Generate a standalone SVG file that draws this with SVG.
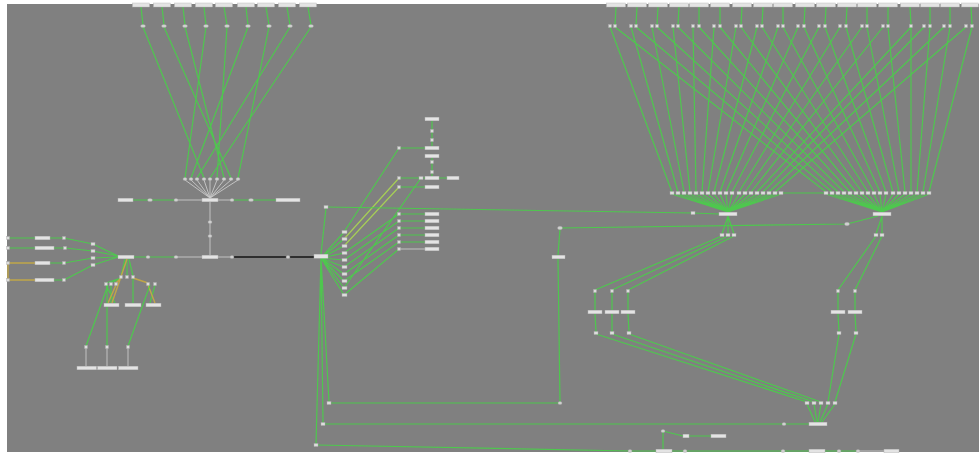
<svg xmlns="http://www.w3.org/2000/svg" width="979" height="454" viewBox="0 0 979 454">
<defs>
<style>
.g{stroke:#45d445;stroke-width:1.2;fill:none;stroke-opacity:.85}
.gl{stroke:#a6cf56;stroke-width:1.2;fill:none}
.gr{stroke:#c9c9c9;stroke-width:.9;fill:none}
.bk{stroke:#2e2e2e;stroke-width:2.2;fill:none}
.ol{stroke:#c0a648;stroke-width:1.4;fill:none}
.sq{fill:#dcdcdc;stroke:#a8a8a8;stroke-width:.4}
.lb{fill:#e4e4e4;stroke:#b4b4b4;stroke-width:.4}
.el{fill:#d0d0d0;stroke:#a8a8a8;stroke-width:.3}
</style>
</defs>
<rect x="0" y="0" width="979" height="454" fill="#ffffff"/>
<rect x="7" y="4" width="972" height="448" fill="#808080"/>

<g id="connectors">
<path class="g" d="M141,7L143,25M162,7L164,25M183,7L185,25M204,7L206,25M224,7L227,25M246,7L248,25M266,7L269,25M287,7L290,25M308,7L311,25"/>
<path class="g" d="M143,27L204,178M164,27L231,178M185,27L224,178M206,27L185,178M227,27L217,178M248,27L191,178M269,27L238,178M290,27L197,178M311,27L210,178"/>
<path class="gr" d="M185,180L210,198M191,180L210,198M197,180L210,198M204,180L210,198M210,180L210,198M217,180L210,198M224,180L210,198M231,180L210,198M238,180L210,198"/>
<path class="g" d="M133,200L150,200M150,200L176,200M232,200L251,200M251,200L276,200"/>
<path class="gr" d="M176,200L202,200M218,200L232,200M210,202L210,255"/>
<path class="g" d="M134,257L148,257M148,257L176,257"/>
<path class="gr" d="M176,257L202,257M218,257L232,257"/>
<path class="bk" d="M232,257L288,257M288,257L314,257"/>
<path class="g" d="M8,238L35,238M50,238L64,238M8,248L35,248M54,248L65,248M50,263L64,263M54,280L64,280"/>
<path class="ol" d="M8,263L35,263M8,280L35,280M8,263L8,280"/>
<path class="g" d="M64,238L93,244M65,248L93,251M64,263L93,258M64,280L93,265M93,244L118,256M93,251L118,256M93,258L118,257M93,265L118,257"/>
<path class="g" d="M125,259L121,276M127,259L127,276M129,259L133,276M121,278L106,283M121,278L111,283M133,278L133,303M106,285L115,303M111,285L111,303M155,285L150,303"/>
<path class="ol" d="M121,278L116,283M127,259L112,303M133,278L148,283M148,285L155,303M116,285L108,303"/>
<path class="g" d="M108,285L86,346M107,285L107,346M150,285L128,346"/>
<path class="gr" d="M86,348L86,366M107,348L107,366M128,348L128,366"/>
<path class="g" d="M321,258L344,232M321,258L344,239M321,258L344,246M321,258L344,253M321,258L344,260M321,258L344,267M321,258L344,274M321,258L344,281M321,258L344,288M321,258L344,295"/>
<path class="g" d="M344,232L399,148M344,253L399,214M344,260L399,221M344,267L399,228M344,274L399,235M344,281L399,242M344,288L421,178M344,295L399,249"/>
<path class="gl" d="M344,239L399,178M344,246L399,187"/>
<path class="g" d="M399,148L425,148M399,178L421,178M421,178L425,178M439,178L447,178M399,187L425,187M399,214L425,214M399,221L425,221M399,228L425,228M399,235L425,235M399,242L425,242M432,121L432,146M432,158L432,176"/>
<path class="gr" d="M399,249L425,249"/>
<path class="g" d="M321,254L326,208M326,207L693,213M693,213L719,214"/>
<path class="g" d="M321,258L329,402M321,258L323,423M321,258L316,444"/>
<path class="g" d="M329,403L560,403M560,403L558,259M558,255L560,229M560,228L847,224M847,224L878,216"/>
<path class="g" d="M323,424L784,424M784,424L809,424"/>
<path class="g" d="M316,445L630,451M630,451L656,451M672,451L685,451M685,451L783,451M783,451L809,451M825,451L839,451M839,451L858,451M663,431L663,449M663,431L683,436M689,436L711,436"/>
<path class="gr" d="M858,451L884,451"/>
<path class="g" d="M728,216L722,234M728,216L728,234M728,216L734,234M882,216L876,234M882,216L882,234"/>
<path class="g" d="M722,236L595,290M728,236L612,290M734,236L628,290M595,292L595,310M612,292L612,310M628,292L628,310M595,314L596,332M612,314L612,332M628,314L629,332"/>
<path class="g" d="M596,334L807,402M612,334L814,402M629,334L821,402"/>
<path class="g" d="M876,236L838,290M882,236L855,290M838,292L838,310M855,292L855,310M838,314L839,332M855,314L856,332M839,334L828,402M856,334L835,402"/>
<path class="g" d="M807,404L815,422M814,404L817,422M821,404L818,422M828,404L820,422M835,404L822,422"/>
<path class="g" d="M616,7L615,25M637,7L636,25M658,7L657,25M679,7L678,25M699,7L699,25M720,7L720,25M742,7L741,25M763,7L762,25M783,7L783,25M805,7L804,25M826,7L825,25M847,7L846,25M867,7L867,25M888,7L888,25M910,7L911,25M930,7L930,25M950,7L950,25M971,7L972,25"/>
<path class="g" d="M610,27L672,192M615,27L826,192M631,27L678,192M636,27L832,192M652,27L684,192M657,27L838,192M673,27L690,192M678,27L844,192M693,27L696,192M699,27L850,192M714,27L702,192M720,27L856,192M736,27L708,192M741,27L862,192M757,27L714,192M762,27L868,192M778,27L720,192M783,27L874,192M798,27L726,192M804,27L880,192M819,27L732,192M825,27L886,192M840,27L739,192M846,27L893,192M862,27L745,192M867,27L899,192M883,27L751,192M888,27L905,192M911,27L757,192M911,27L911,192M924,27L763,192M930,27L917,192M944,27L769,192M950,27L923,192M966,27L775,192M972,27L929,192"/>
<path class="g" d="M672,194L728,212M678,194L728,212M684,194L728,212M690,194L728,212M696,194L728,212M702,194L728,212M708,194L728,212M714,194L728,212M720,194L728,212M726,194L728,212M732,194L728,212M739,194L728,212M745,194L728,212M751,194L728,212M757,194L728,212M763,194L728,212M769,194L728,212M775,194L728,212M781,194L728,212"/>
<path class="g" d="M826,194L882,212M832,194L882,212M838,194L882,212M844,194L882,212M850,194L882,212M856,194L882,212M862,194L882,212M868,194L882,212M874,194L882,212M880,194L882,212M886,194L882,212M893,194L882,212M899,194L882,212M905,194L882,212M911,194L882,212M917,194L882,212M923,194L882,212M929,194L882,212"/>
<path class="g" d="M781,193L826,193"/>
</g>

<g id="nodes">
<g id="lt1"><rect class="lb" x="132.5" y="3" width="17" height="4"/></g>
<g id="lt2"><rect class="lb" x="153.5" y="3" width="17" height="4"/></g>
<g id="lt3"><rect class="lb" x="174.5" y="3" width="17" height="4"/></g>
<g id="lt4"><rect class="lb" x="195.5" y="3" width="17" height="4"/></g>
<g id="lt5"><rect class="lb" x="215.5" y="3" width="17" height="4"/></g>
<g id="lt6"><rect class="lb" x="237.5" y="3" width="17" height="4"/></g>
<g id="lt7"><rect class="lb" x="257.5" y="3" width="17" height="4"/></g>
<g id="lt8"><rect class="lb" x="278.5" y="3" width="17" height="4"/></g>
<g id="lt9"><rect class="lb" x="299.5" y="3" width="17" height="4"/></g>
<g id="le1"><ellipse class="el" cx="143" cy="26" rx="2.5" ry="1.6"/></g>
<g id="le2"><ellipse class="el" cx="164" cy="26" rx="2.5" ry="1.6"/></g>
<g id="le3"><ellipse class="el" cx="185" cy="26" rx="2.5" ry="1.6"/></g>
<g id="le4"><ellipse class="el" cx="206" cy="26" rx="2.5" ry="1.6"/></g>
<g id="le5"><ellipse class="el" cx="227" cy="26" rx="2.5" ry="1.6"/></g>
<g id="le6"><ellipse class="el" cx="248" cy="26" rx="2.5" ry="1.6"/></g>
<g id="le7"><ellipse class="el" cx="269" cy="26" rx="2.5" ry="1.6"/></g>
<g id="le8"><ellipse class="el" cx="290" cy="26" rx="2.5" ry="1.6"/></g>
<g id="le9"><ellipse class="el" cx="311" cy="26" rx="2.5" ry="1.6"/></g>
<g id="lr1"><ellipse class="el" cx="185" cy="179" rx="2" ry="1.5"/></g>
<g id="lr2"><ellipse class="el" cx="191" cy="179" rx="2" ry="1.5"/></g>
<g id="lr3"><ellipse class="el" cx="197" cy="179" rx="2" ry="1.5"/></g>
<g id="lr4"><ellipse class="el" cx="204" cy="179" rx="2" ry="1.5"/></g>
<g id="lr5"><ellipse class="el" cx="210" cy="179" rx="2" ry="1.5"/></g>
<g id="lr6"><ellipse class="el" cx="217" cy="179" rx="2" ry="1.5"/></g>
<g id="lr7"><ellipse class="el" cx="224" cy="179" rx="2" ry="1.5"/></g>
<g id="lr8"><ellipse class="el" cx="231" cy="179" rx="2" ry="1.5"/></g>
<g id="lr9"><ellipse class="el" cx="238" cy="179" rx="2" ry="1.5"/></g>
<g id="a1"><rect class="lb" x="118" y="198.2" width="15" height="3.6"/></g>
<g id="a2"><ellipse class="el" cx="150" cy="200" rx="2.5" ry="1.6"/></g>
<g id="a3"><ellipse class="el" cx="176" cy="200" rx="2" ry="1.6"/></g>
<g id="hub1"><rect class="lb" x="202" y="198.2" width="16" height="3.6"/></g>
<g id="a4"><ellipse class="el" cx="232" cy="200" rx="2" ry="1.6"/></g>
<g id="a5"><ellipse class="el" cx="251" cy="200" rx="2.5" ry="1.6"/></g>
<g id="a6"><rect class="lb" x="276" y="198.2" width="24" height="3.6"/></g>
<g id="v1"><ellipse class="el" cx="210" cy="222" rx="2" ry="1.6"/></g>
<g id="v2"><ellipse class="el" cx="210" cy="236" rx="2" ry="1.6"/></g>
<g id="lhub"><rect class="lb" x="118" y="255.2" width="16" height="3.6"/></g>
<g id="b1"><ellipse class="el" cx="148" cy="257" rx="2" ry="1.6"/></g>
<g id="b2"><ellipse class="el" cx="176" cy="257" rx="2" ry="1.6"/></g>
<g id="hub2"><rect class="lb" x="202" y="255.2" width="16" height="3.6"/></g>
<g id="b3"><ellipse class="el" cx="232" cy="257" rx="2" ry="1.6"/></g>
<g id="b4"><ellipse class="el" cx="288" cy="257" rx="2" ry="1.6"/></g>
<g id="mhub"><rect class="lb" x="314" y="254.2" width="14" height="4"/></g>
<g id="c1"><rect class="sq" x="6.5" y="236.5" width="3" height="3"/></g>
<g id="c2"><rect class="sq" x="6.5" y="246.5" width="3" height="3"/></g>
<g id="c3"><rect class="sq" x="6.5" y="261.5" width="3" height="3"/></g>
<g id="c4"><rect class="sq" x="6.5" y="278.5" width="3" height="3"/></g>
<g id="c5"><rect class="lb" x="35" y="236.2" width="15" height="3.6"/></g>
<g id="c6"><rect class="lb" x="35" y="246.2" width="19" height="3.6"/></g>
<g id="c7"><rect class="lb" x="35" y="261.2" width="15" height="3.6"/></g>
<g id="c8"><rect class="lb" x="35" y="278.2" width="19" height="3.6"/></g>
<g id="c9"><rect class="sq" x="62.5" y="236.5" width="3" height="3"/></g>
<g id="c10"><rect class="sq" x="63.5" y="246.5" width="3" height="3"/></g>
<g id="c11"><rect class="sq" x="62.5" y="261.5" width="3" height="3"/></g>
<g id="c12"><rect class="sq" x="62.5" y="278.5" width="3" height="3"/></g>
<g id="c13"><rect class="sq" x="91" y="242.5" width="4" height="3"/></g>
<g id="c14"><rect class="sq" x="91" y="249.5" width="4" height="3"/></g>
<g id="c15"><rect class="sq" x="91" y="256.5" width="4" height="3"/></g>
<g id="c16"><rect class="sq" x="91" y="263.5" width="4" height="3"/></g>
<g id="d1"><rect class="sq" x="119.5" y="275.5" width="3" height="3"/></g>
<g id="d2"><rect class="sq" x="125.5" y="275.5" width="3" height="3"/></g>
<g id="d3"><rect class="sq" x="131.5" y="275.5" width="3" height="3"/></g>
<g id="d4"><rect class="sq" x="104.5" y="282.5" width="3" height="3"/></g>
<g id="d5"><rect class="sq" x="109.5" y="282.5" width="3" height="3"/></g>
<g id="d6"><rect class="sq" x="114.5" y="282.5" width="3" height="3"/></g>
<g id="d7"><rect class="sq" x="146.5" y="282.5" width="3" height="3"/></g>
<g id="d8"><rect class="sq" x="153.5" y="282.5" width="3" height="3"/></g>
<g id="d9"><rect class="lb" x="104" y="303.2" width="15" height="3.6"/></g>
<g id="d10"><rect class="lb" x="125" y="303.2" width="16" height="3.6"/></g>
<g id="d11"><rect class="lb" x="146" y="303.2" width="15" height="3.6"/></g>
<g id="d12"><rect class="sq" x="84.5" y="345.5" width="3" height="3"/></g>
<g id="d13"><rect class="sq" x="105.5" y="345.5" width="3" height="3"/></g>
<g id="d14"><rect class="sq" x="126.5" y="345.5" width="3" height="3"/></g>
<g id="d15"><rect class="lb" x="77" y="366.2" width="19.5" height="3.6"/></g>
<g id="d16"><rect class="lb" x="97.5" y="366.2" width="19.5" height="3.6"/></g>
<g id="d17"><rect class="lb" x="118.5" y="366.2" width="19.5" height="3.6"/></g>
<g id="m1"><rect class="sq" x="342" y="230.5" width="5" height="3"/></g>
<g id="m2"><rect class="sq" x="342" y="237.5" width="5" height="3"/></g>
<g id="m3"><rect class="sq" x="342" y="244.5" width="5" height="3"/></g>
<g id="m4"><rect class="sq" x="342" y="251.5" width="5" height="3"/></g>
<g id="m5"><rect class="sq" x="342" y="258.5" width="5" height="3"/></g>
<g id="m6"><rect class="sq" x="342" y="265.5" width="5" height="3"/></g>
<g id="m7"><rect class="sq" x="342" y="272.5" width="5" height="3"/></g>
<g id="m8"><rect class="sq" x="342" y="279.5" width="5" height="3"/></g>
<g id="m9"><rect class="sq" x="342" y="286.5" width="5" height="3"/></g>
<g id="m10"><rect class="sq" x="342" y="293.5" width="5" height="3"/></g>
<g id="n1"><rect class="sq" x="397.5" y="146.5" width="3" height="3"/></g>
<g id="n2"><rect class="sq" x="397.5" y="176.5" width="3" height="3"/></g>
<g id="n3"><rect class="sq" x="397.5" y="185.5" width="3" height="3"/></g>
<g id="n4"><rect class="sq" x="397.5" y="212.5" width="3" height="3"/></g>
<g id="n5"><rect class="sq" x="397.5" y="219.5" width="3" height="3"/></g>
<g id="n6"><rect class="sq" x="397.5" y="226.5" width="3" height="3"/></g>
<g id="n7"><rect class="sq" x="397.5" y="233.5" width="3" height="3"/></g>
<g id="n8"><rect class="sq" x="397.5" y="240.5" width="3" height="3"/></g>
<g id="n9"><rect class="sq" x="397.5" y="247.5" width="3" height="3"/></g>
<g id="n10"><rect class="sq" x="419" y="176.5" width="4" height="3"/></g>
<g id="p1"><rect class="lb" x="425" y="117.2" width="14" height="3.6"/></g>
<g id="p2"><rect class="sq" x="430.5" y="129.5" width="3" height="3"/></g>
<g id="p3"><rect class="sq" x="430.5" y="138.5" width="3" height="3"/></g>
<g id="p4"><rect class="lb" x="425" y="146.2" width="14" height="3.6"/></g>
<g id="p5"><rect class="lb" x="425" y="154.2" width="14" height="3.6"/></g>
<g id="p6"><rect class="sq" x="430.5" y="160.5" width="3" height="3"/></g>
<g id="p7"><rect class="sq" x="430.5" y="170.5" width="3" height="3"/></g>
<g id="p8"><rect class="lb" x="425" y="176.2" width="14" height="3.6"/></g>
<g id="p9"><rect class="lb" x="447" y="176.2" width="12" height="3.6"/></g>
<g id="p10"><rect class="lb" x="425" y="185.2" width="14" height="3.6"/></g>
<g id="p11"><rect class="lb" x="425" y="212.2" width="14" height="3.6"/></g>
<g id="p12"><rect class="lb" x="425" y="219.2" width="14" height="3.6"/></g>
<g id="p13"><rect class="lb" x="425" y="226.2" width="14" height="3.6"/></g>
<g id="p14"><rect class="lb" x="425" y="233.2" width="14" height="3.6"/></g>
<g id="p15"><rect class="lb" x="425" y="240.2" width="14" height="3.6"/></g>
<g id="p16"><rect class="lb" x="425" y="247.2" width="14" height="3.6"/></g>
<g id="x1"><rect class="sq" x="324" y="205.5" width="4" height="3"/></g>
<g id="x2"><rect class="sq" x="691" y="211.5" width="4" height="3"/></g>
<g id="q1"><rect class="sq" x="327" y="401.5" width="4" height="3"/></g>
<g id="q2"><rect class="sq" x="321" y="422.5" width="4" height="3"/></g>
<g id="q3"><rect class="sq" x="314" y="443.5" width="4" height="3"/></g>
<g id="q4"><ellipse class="el" cx="560" cy="403" rx="2" ry="1.6"/></g>
<g id="q5"><rect class="lb" x="552" y="255.2" width="13" height="3.6"/></g>
<g id="q6"><ellipse class="el" cx="560" cy="228" rx="2.5" ry="1.8"/></g>
<g id="q7"><ellipse class="el" cx="847" cy="224" rx="2.5" ry="1.8"/></g>
<g id="q8"><ellipse class="el" cx="784" cy="424" rx="2" ry="1.6"/></g>
<g id="q9"><rect class="lb" x="809" y="422.2" width="18" height="3.6"/></g>
<g id="q10"><ellipse class="el" cx="630" cy="451" rx="2" ry="1.6"/></g>
<g id="q11"><rect class="lb" x="656" y="449.2" width="16" height="3.6"/></g>
<g id="q12"><ellipse class="el" cx="685" cy="451" rx="2" ry="1.6"/></g>
<g id="q13"><ellipse class="el" cx="783" cy="451" rx="2" ry="1.6"/></g>
<g id="q14"><rect class="lb" x="809" y="449.2" width="16" height="3.6"/></g>
<g id="q15"><ellipse class="el" cx="839" cy="451" rx="2" ry="1.6"/></g>
<g id="q16"><ellipse class="el" cx="858" cy="451" rx="2" ry="1.6"/></g>
<g id="q17"><rect class="lb" x="884" y="449.2" width="15" height="3.6"/></g>
<g id="q18"><ellipse class="el" cx="663" cy="431" rx="2" ry="1.6"/></g>
<g id="q19"><rect class="lb" x="683" y="434.2" width="6" height="3.6"/></g>
<g id="q20"><rect class="lb" x="711" y="434.2" width="15" height="3.6"/></g>
<g id="hubL"><rect class="lb" x="719" y="212.2" width="18" height="3.6"/></g>
<g id="hubR"><rect class="lb" x="873" y="212.2" width="18" height="3.6"/></g>
<g id="r1"><rect class="sq" x="720" y="233.5" width="4" height="3"/></g>
<g id="r2"><rect class="sq" x="726" y="233.5" width="4" height="3"/></g>
<g id="r3"><rect class="sq" x="732" y="233.5" width="4" height="3"/></g>
<g id="r4"><rect class="sq" x="874" y="233.5" width="4" height="3"/></g>
<g id="r5"><rect class="sq" x="880" y="233.5" width="4" height="3"/></g>
<g id="s1"><rect class="sq" x="593.5" y="289.5" width="3" height="3"/></g>
<g id="s2"><rect class="sq" x="610.5" y="289.5" width="3" height="3"/></g>
<g id="s3"><rect class="sq" x="626.5" y="289.5" width="3" height="3"/></g>
<g id="s4"><rect class="lb" x="588" y="310.2" width="14" height="3.6"/></g>
<g id="s5"><rect class="lb" x="605" y="310.2" width="14" height="3.6"/></g>
<g id="s6"><rect class="lb" x="621" y="310.2" width="14" height="3.6"/></g>
<g id="s7"><rect class="sq" x="594" y="331.5" width="4" height="3"/></g>
<g id="s8"><rect class="sq" x="610" y="331.5" width="4" height="3"/></g>
<g id="s9"><rect class="sq" x="627" y="331.5" width="4" height="3"/></g>
<g id="t1"><rect class="sq" x="836.5" y="289.5" width="3" height="3"/></g>
<g id="t2"><rect class="sq" x="853.5" y="289.5" width="3" height="3"/></g>
<g id="t3"><rect class="lb" x="831" y="310.2" width="14" height="3.6"/></g>
<g id="t4"><rect class="lb" x="848" y="310.2" width="14" height="3.6"/></g>
<g id="t5"><rect class="sq" x="837" y="331.5" width="4" height="3"/></g>
<g id="t6"><rect class="sq" x="854" y="331.5" width="4" height="3"/></g>
<g id="u1"><rect class="sq" x="805" y="401.5" width="4" height="3"/></g>
<g id="u2"><rect class="sq" x="812" y="401.5" width="4" height="3"/></g>
<g id="u3"><rect class="sq" x="819" y="401.5" width="4" height="3"/></g>
<g id="u4"><rect class="sq" x="826" y="401.5" width="4" height="3"/></g>
<g id="u5"><rect class="sq" x="833" y="401.5" width="4" height="3"/></g>
<g id="rt1"><rect class="lb" x="606.5" y="3" width="19" height="4"/></g>
<g id="rt2"><rect class="lb" x="627.5" y="3" width="19" height="4"/></g>
<g id="rt3"><rect class="lb" x="648.5" y="3" width="19" height="4"/></g>
<g id="rt4"><rect class="lb" x="669.5" y="3" width="19" height="4"/></g>
<g id="rt5"><rect class="lb" x="689.5" y="3" width="19" height="4"/></g>
<g id="rt6"><rect class="lb" x="710.5" y="3" width="19" height="4"/></g>
<g id="rt7"><rect class="lb" x="732.5" y="3" width="19" height="4"/></g>
<g id="rt8"><rect class="lb" x="753.5" y="3" width="19" height="4"/></g>
<g id="rt9"><rect class="lb" x="773.5" y="3" width="19" height="4"/></g>
<g id="rt10"><rect class="lb" x="795.5" y="3" width="19" height="4"/></g>
<g id="rt11"><rect class="lb" x="816.5" y="3" width="19" height="4"/></g>
<g id="rt12"><rect class="lb" x="837.5" y="3" width="19" height="4"/></g>
<g id="rt13"><rect class="lb" x="857.5" y="3" width="19" height="4"/></g>
<g id="rt14"><rect class="lb" x="878.5" y="3" width="19" height="4"/></g>
<g id="rt15"><rect class="lb" x="900.5" y="3" width="19" height="4"/></g>
<g id="rt16"><rect class="lb" x="920.5" y="3" width="19" height="4"/></g>
<g id="rt17"><rect class="lb" x="940.5" y="3" width="19" height="4"/></g>
<g id="rt18"><rect class="lb" x="961.5" y="3" width="17" height="4"/></g>
<g id="pr1a"><rect class="sq" x="608.5" y="24.5" width="3" height="3"/></g><g id="pr1b"><rect class="sq" x="613.5" y="24.5" width="3" height="3"/></g>
<g id="pr2a"><rect class="sq" x="629.5" y="24.5" width="3" height="3"/></g><g id="pr2b"><rect class="sq" x="634.5" y="24.5" width="3" height="3"/></g>
<g id="pr3a"><rect class="sq" x="650.5" y="24.5" width="3" height="3"/></g><g id="pr3b"><rect class="sq" x="655.5" y="24.5" width="3" height="3"/></g>
<g id="pr4a"><rect class="sq" x="671.5" y="24.5" width="3" height="3"/></g><g id="pr4b"><rect class="sq" x="676.5" y="24.5" width="3" height="3"/></g>
<g id="pr5a"><rect class="sq" x="691.5" y="24.5" width="3" height="3"/></g><g id="pr5b"><rect class="sq" x="697.5" y="24.5" width="3" height="3"/></g>
<g id="pr6a"><rect class="sq" x="712.5" y="24.5" width="3" height="3"/></g><g id="pr6b"><rect class="sq" x="718.5" y="24.5" width="3" height="3"/></g>
<g id="pr7a"><rect class="sq" x="734.5" y="24.5" width="3" height="3"/></g><g id="pr7b"><rect class="sq" x="739.5" y="24.5" width="3" height="3"/></g>
<g id="pr8a"><rect class="sq" x="755.5" y="24.5" width="3" height="3"/></g><g id="pr8b"><rect class="sq" x="760.5" y="24.5" width="3" height="3"/></g>
<g id="pr9a"><rect class="sq" x="776.5" y="24.5" width="3" height="3"/></g><g id="pr9b"><rect class="sq" x="781.5" y="24.5" width="3" height="3"/></g>
<g id="pr10a"><rect class="sq" x="796.5" y="24.5" width="3" height="3"/></g><g id="pr10b"><rect class="sq" x="802.5" y="24.5" width="3" height="3"/></g>
<g id="pr11a"><rect class="sq" x="817.5" y="24.5" width="3" height="3"/></g><g id="pr11b"><rect class="sq" x="823.5" y="24.5" width="3" height="3"/></g>
<g id="pr12a"><rect class="sq" x="838.5" y="24.5" width="3" height="3"/></g><g id="pr12b"><rect class="sq" x="844.5" y="24.5" width="3" height="3"/></g>
<g id="pr13a"><rect class="sq" x="860.5" y="24.5" width="3" height="3"/></g><g id="pr13b"><rect class="sq" x="865.5" y="24.5" width="3" height="3"/></g>
<g id="pr14a"><rect class="sq" x="881.5" y="24.5" width="3" height="3"/></g><g id="pr14b"><rect class="sq" x="886.5" y="24.5" width="3" height="3"/></g>
<g id="pr15"><rect class="sq" x="909.5" y="24.5" width="3" height="3"/></g>
<g id="pr16a"><rect class="sq" x="922.5" y="24.5" width="3" height="3"/></g><g id="pr16b"><rect class="sq" x="928.5" y="24.5" width="3" height="3"/></g>
<g id="pr17a"><rect class="sq" x="942.5" y="24.5" width="3" height="3"/></g><g id="pr17b"><rect class="sq" x="948.5" y="24.5" width="3" height="3"/></g>
<g id="pr18a"><rect class="sq" x="964.5" y="24.5" width="3" height="3"/></g><g id="pr18b"><rect class="sq" x="970.5" y="24.5" width="3" height="3"/></g>
<g id="lw1"><rect class="sq" x="670" y="191.5" width="4" height="3"/></g>
<g id="lw2"><rect class="sq" x="676" y="191.5" width="4" height="3"/></g>
<g id="lw3"><rect class="sq" x="682" y="191.5" width="4" height="3"/></g>
<g id="lw4"><rect class="sq" x="688" y="191.5" width="4" height="3"/></g>
<g id="lw5"><rect class="sq" x="694" y="191.5" width="4" height="3"/></g>
<g id="lw6"><rect class="sq" x="700" y="191.5" width="4" height="3"/></g>
<g id="lw7"><rect class="sq" x="706" y="191.5" width="4" height="3"/></g>
<g id="lw8"><rect class="sq" x="712" y="191.5" width="4" height="3"/></g>
<g id="lw9"><rect class="sq" x="718" y="191.5" width="4" height="3"/></g>
<g id="lw10"><rect class="sq" x="724" y="191.5" width="4" height="3"/></g>
<g id="lw11"><rect class="sq" x="730" y="191.5" width="4" height="3"/></g>
<g id="lw12"><rect class="sq" x="737" y="191.5" width="4" height="3"/></g>
<g id="lw13"><rect class="sq" x="743" y="191.5" width="4" height="3"/></g>
<g id="lw14"><rect class="sq" x="749" y="191.5" width="4" height="3"/></g>
<g id="lw15"><rect class="sq" x="755" y="191.5" width="4" height="3"/></g>
<g id="lw16"><rect class="sq" x="761" y="191.5" width="4" height="3"/></g>
<g id="lw17"><rect class="sq" x="767" y="191.5" width="4" height="3"/></g>
<g id="lw18"><rect class="sq" x="773" y="191.5" width="4" height="3"/></g>
<g id="lw19"><rect class="sq" x="779" y="191.5" width="4" height="3"/></g>
<g id="rw1"><rect class="sq" x="824" y="191.5" width="4" height="3"/></g>
<g id="rw2"><rect class="sq" x="830" y="191.5" width="4" height="3"/></g>
<g id="rw3"><rect class="sq" x="836" y="191.5" width="4" height="3"/></g>
<g id="rw4"><rect class="sq" x="842" y="191.5" width="4" height="3"/></g>
<g id="rw5"><rect class="sq" x="848" y="191.5" width="4" height="3"/></g>
<g id="rw6"><rect class="sq" x="854" y="191.5" width="4" height="3"/></g>
<g id="rw7"><rect class="sq" x="860" y="191.5" width="4" height="3"/></g>
<g id="rw8"><rect class="sq" x="866" y="191.5" width="4" height="3"/></g>
<g id="rw9"><rect class="sq" x="872" y="191.5" width="4" height="3"/></g>
<g id="rw10"><rect class="sq" x="878" y="191.5" width="4" height="3"/></g>
<g id="rw11"><rect class="sq" x="884" y="191.5" width="4" height="3"/></g>
<g id="rw12"><rect class="sq" x="891" y="191.5" width="4" height="3"/></g>
<g id="rw13"><rect class="sq" x="897" y="191.5" width="4" height="3"/></g>
<g id="rw14"><rect class="sq" x="903" y="191.5" width="4" height="3"/></g>
<g id="rw15"><rect class="sq" x="909" y="191.5" width="4" height="3"/></g>
<g id="rw16"><rect class="sq" x="915" y="191.5" width="4" height="3"/></g>
<g id="rw17"><rect class="sq" x="921" y="191.5" width="4" height="3"/></g>
<g id="rw18"><rect class="sq" x="927" y="191.5" width="4" height="3"/></g>
</g>
</svg>
